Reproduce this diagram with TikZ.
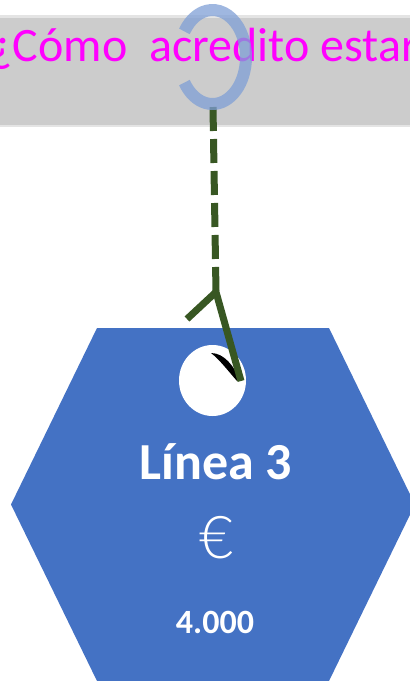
\documentclass[tikz,border=0pt]{standalone}
\usepackage{fontspec}
\setmainfont{Carlito}
\newfontfamily\lightfont{Lato Light}
\definecolor{bandgray}{HTML}{CCCCCC}
\definecolor{bandshadow}{HTML}{E4E4E4}
\definecolor{mag}{HTML}{FF00FF}
\definecolor{ringc}{HTML}{7F9FD6}
\definecolor{leaf}{RGB}{56,87,35}
\definecolor{hexblue}{HTML}{4472C4}
\begin{document}
\begin{tikzpicture}[x=1pt,y=-1pt,
  stem/.style={leaf, line width=7pt},
  ringstyle/.style={ringc, draw opacity=0.75, line width=12pt},
  label/.style={text=white, anchor=base, inner sep=0pt}]
\useasboundingbox (0,0) rectangle (410,681);
\clip (0,0) rectangle (410,681);
% banner
\fill[bandshadow] (0,15) rectangle (410,127);
\fill[bandgray] (0,18) rectangle (410,125);
\node[anchor=base west, inner sep=0pt, text=mag, font=\fontsize{48}{52}\selectfont] (title) at (-9.5,61) {¿Cómo\ \ acredito estar};
% string
\coordinate (ringbot) at (213,107);
\coordinate (fork) at (216,292);
\coordinate (leftend) at (187,319);
\coordinate (hookend) at (241,381);
\draw[stem, dash pattern=on 24pt off 8pt] (ringbot) -- (fork);
% ring
\draw[ringstyle] (212.5,57) ++(147:33.5 and 47) arc[start angle=147, end angle=-147, x radius=33.5, y radius=47];
% tag
\fill[hexblue] (97,328) -- (329,328) -- (415,504.5) -- (329,681) -- (97,681) -- (11,504.5) -- cycle;
\fill[white] (212.5,380.5) ellipse [x radius=33.5, y radius=35.5];
\fill[black] (211,353) .. controls (224,353) and (234,366) .. (240,380) -- (237,381) .. controls (229,372) and (220,360) .. cycle;
\draw[stem] (leftend) -- (fork) -- (hookend);
% texts
\node[label, font=\fontsize{52}{56}\selectfont\bfseries] (name) at (216,479) {Línea 3};
\node[label, font=\fontsize{59}{62}\selectfont\lightfont] (cur) at (217,558) {€};
\node[label, font=\fontsize{34}{38}\selectfont\bfseries] (price) at (215,633) {4.000};
\end{tikzpicture}
\end{document}
